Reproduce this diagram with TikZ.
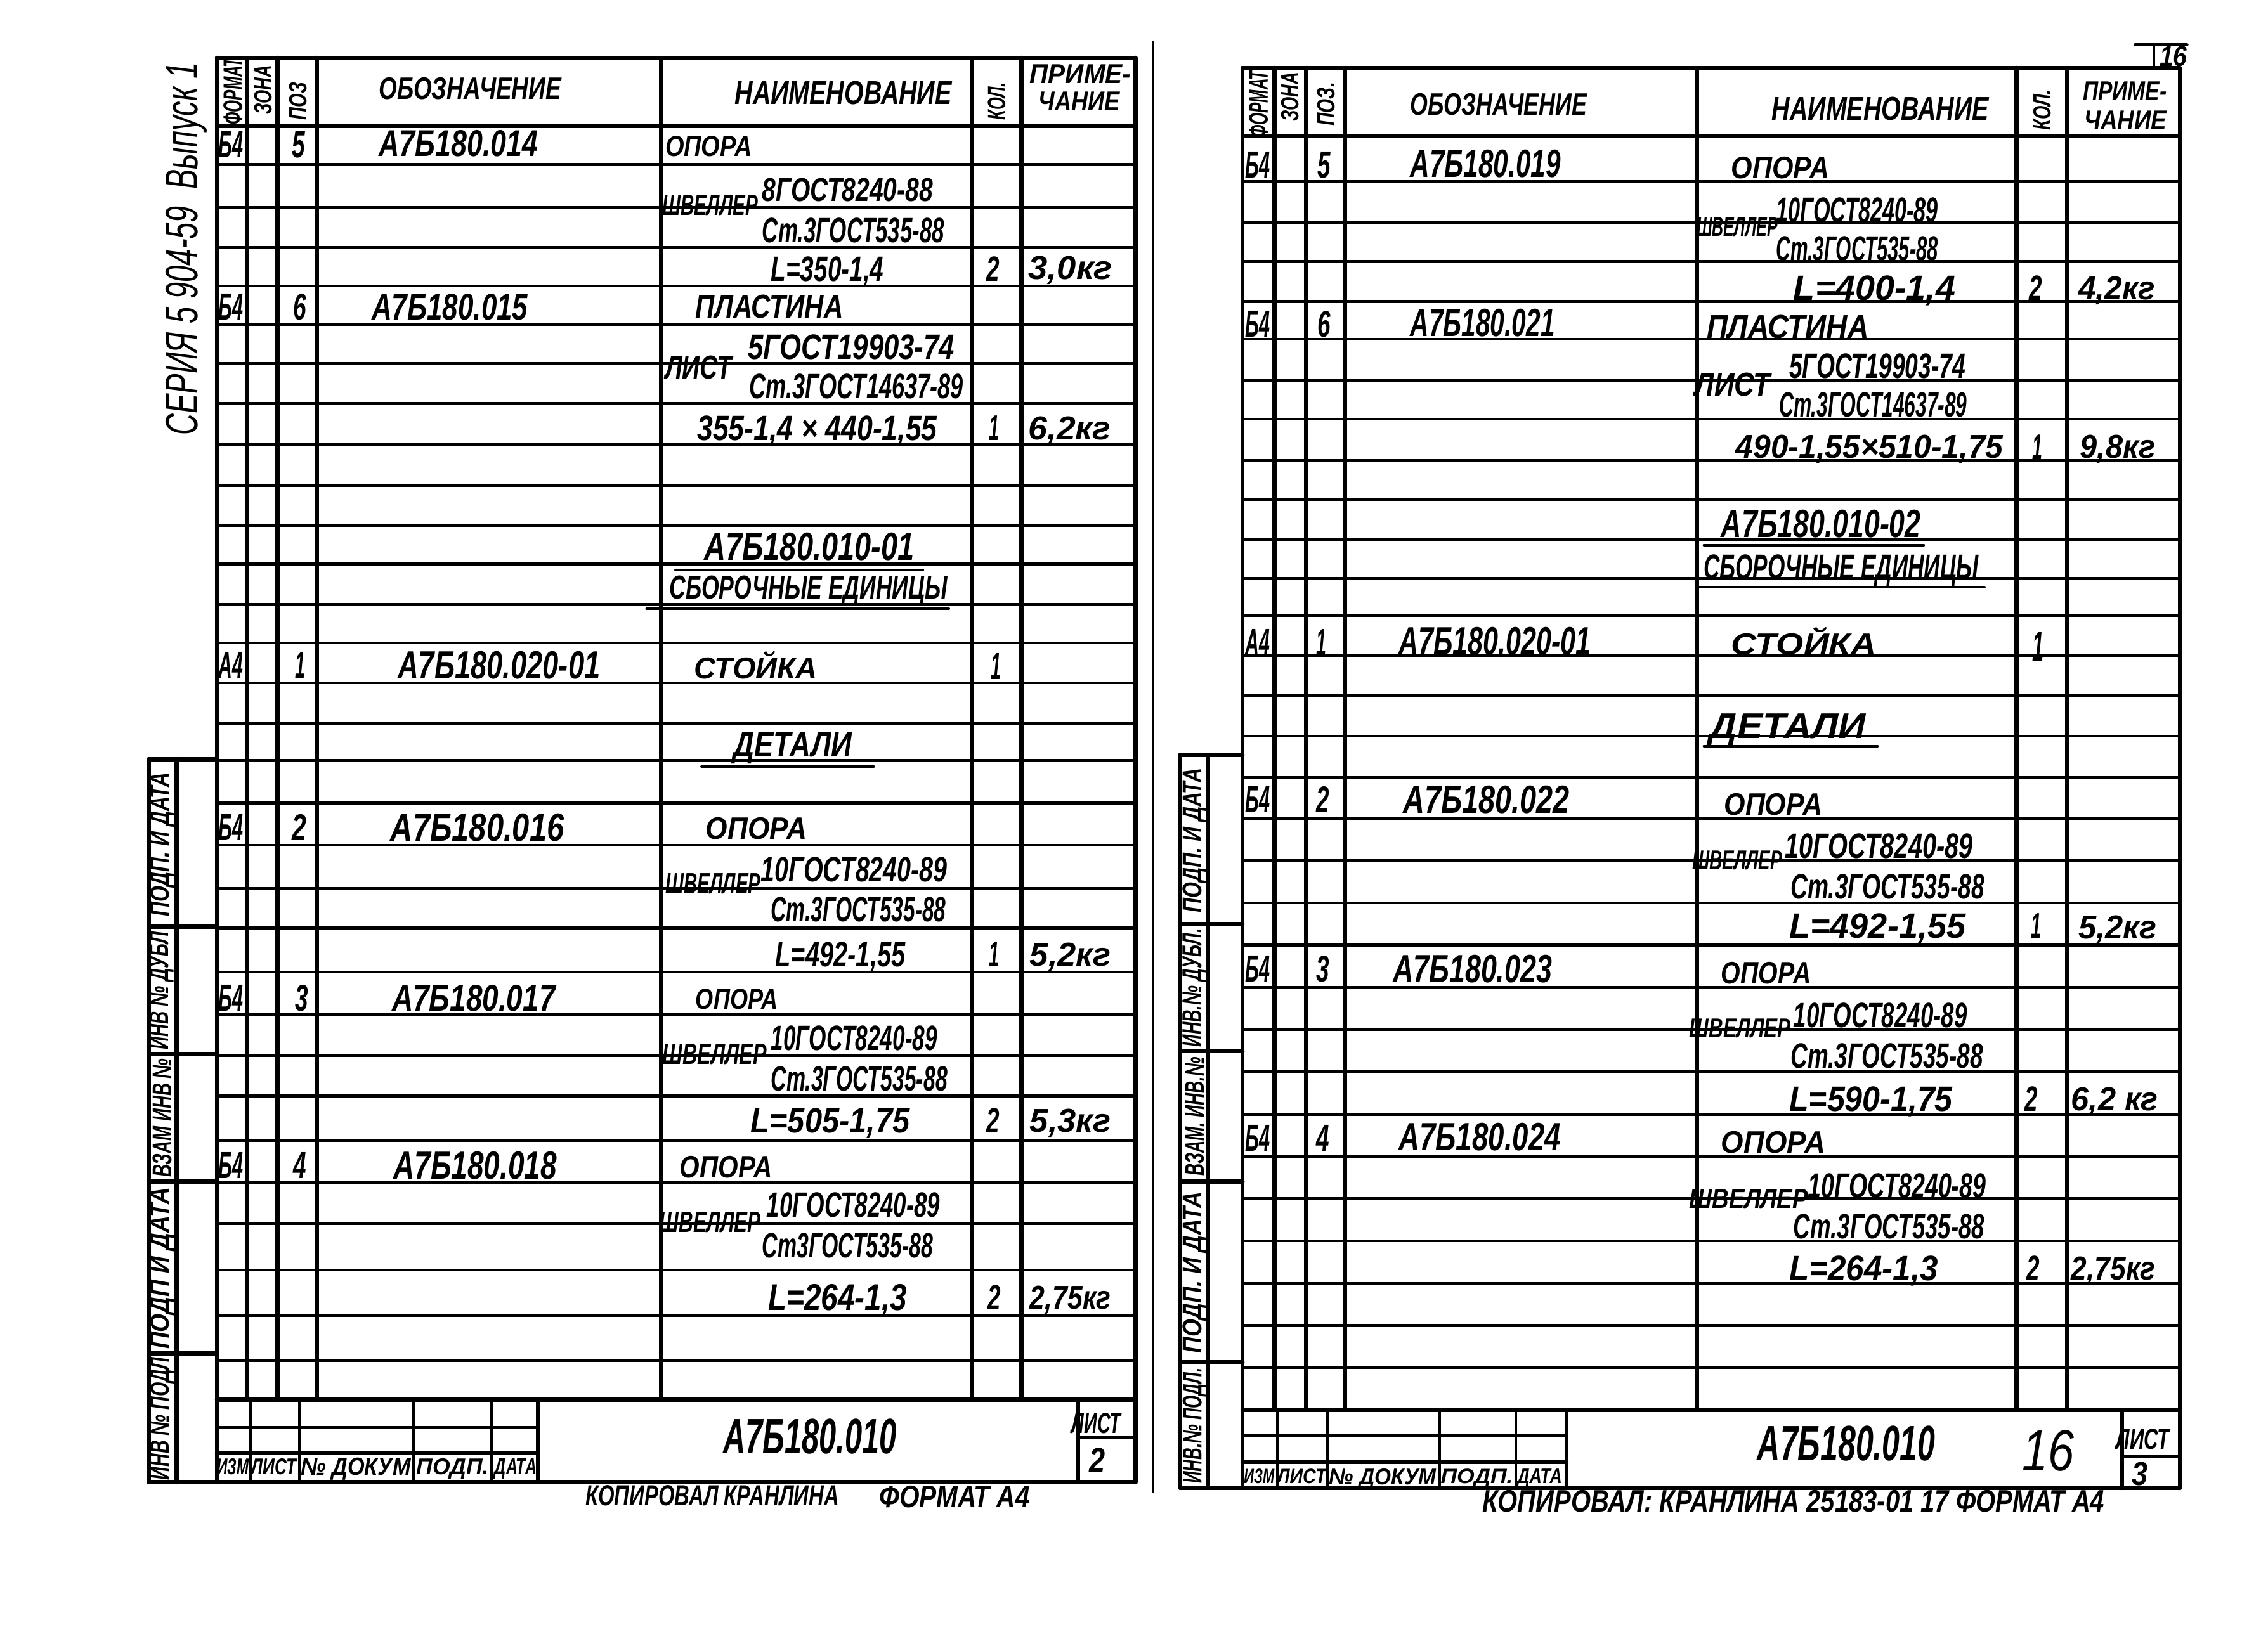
\documentclass[tikz,border=0pt]{standalone}
\usepackage{fontspec}
\usepackage{graphicx}
\newfontfamily\gostf{Liberation Sans}
\newlength\upx \setlength\upx{0.2mm}
\newcounter{tn}
\tikzset{
  lbl/.style={inner sep=0pt, outer sep=0pt, anchor=base west, font=\gostf\bfseries\itshape},
  frm/.style={line width=0.6mm, line cap=round},
  rw/.style={line width=0.4mm, line cap=round},
  ul/.style={line width=0.35mm, line cap=round}
}
\newcommand\mytx[6][]{\stepcounter{tn}\node[lbl,#1] (t\arabic{tn}) at (#2,{#3+0.5*#5}) {\resizebox{#4\upx}{#5\upx}{#6}};}
\newcommand\myrx[6][]{\stepcounter{tn}\node[lbl,rotate=90,anchor=center,#1] (t\arabic{tn}) at (#2,#3) {\resizebox{#4\upx}{#5\upx}{#6}};}
\begin{document}
\begin{tikzpicture}[x=0.2mm,y=-0.2mm]
\useasboundingbox (0,0) rectangle (1568,1125);
\fill[white] (0,0) rectangle (1568,1125);

% ================= LEFT SHEET =================
\draw[frm] (150,40) -- (785,40);
\draw[frm] (150,87) -- (785,87);
\foreach \yy in {113.8,143.3,171,197.8,224.5,251.4,279.1,307.5,335.6,363.3,390.1,417.8,444.6,472.3,500,525.9,555.4,584.5,614.5,641.8,672.2,701.5,729.9,758,788.5,817.8,846.1,878.2,909.8,941}
  \draw[rw] (150,\yy) -- (785,\yy);
\draw[frm] (150,40) -- (150,1025);
\foreach \xx in {171,192,219,457,672,706}
  \draw[frm] (\xx,40) -- (\xx,968);
\draw[frm] (785,40) -- (785,1025);
% title block
\draw[frm] (150,968) -- (785,968);
\draw[frm] (103,1025) -- (785,1025);
\foreach \xx in {173,207,286,340}
  \draw[rw] (\xx,968) -- (\xx,1025);
\draw[frm] (372,968) -- (372,1025);
\draw[frm] (745,968) -- (745,1025);
\draw[rw] (150,987) -- (372,987);
\draw[frm] (150,1005) -- (372,1005);
\draw[rw] (745,994) -- (785,994);
% stamp
\draw[frm] (103,525) -- (103,1025);
\draw[frm] (122,525) -- (122,1025);
\draw[frm] (103,525) -- (150,525);
\foreach \yy in {641,729,817,936}
  \draw[frm] (103,\yy) -- (150,\yy);
% fold line
\draw[line width=0.3mm] (797,28) -- (797,1032);
% underlines
\draw[ul] (467,394) -- (638,394);
\draw[ul] (447,421) -- (656,421);
\draw[ul] (485,530) -- (604,530);

% header texts
\mytx{262}{61}{126}{15}{ОБОЗНАЧЕНИЕ}
\mytx{508}{64}{150}{16}{НАИМЕНОВАНИЕ}
\mytx{712}{51}{70}{13}{ПРИМЕ-}
\mytx{718}{70}{56}{13}{ЧАНИЕ}
\myrx{689}{70}{26}{12}{КОЛ.}
\myrx{161}{63}{46}{13}{ФОРМАТ}
\myrx{182}{62}{34}{12}{ЗОНА}
\myrx{206}{70}{26}{12}{ПОЗ}
% body
\mytx{151}{100}{17}{18}{Б4}
\mytx{202}{100}{9}{18}{5}
\mytx{262}{99}{110}{18}{А7Б180.014}
\mytx{460}{101}{60}{14}{ОПОРА}
\mytx{458}{142}{66}{14}{ШВЕЛЛЕР}
\mytx{527}{131}{118}{16}{8ГОСТ8240-88}
\mytx{527}{159}{126}{17}{Ст.3ГОСТ535-88}
\mytx{533}{186}{78}{17}{L=350-1,4}
\mytx{682}{186}{9}{17}{2}
\mytx{711}{185}{58}{16}{3,0кг}
\mytx{151}{212}{17}{18}{Б4}
\mytx{203}{212}{9}{18}{6}
\mytx{257}{212}{108}{18}{А7Б180.015}
\mytx{481}{212}{102}{16}{ПЛАСТИНА}
\mytx{460}{254}{46}{16}{ЛИСТ}
\mytx{517}{240}{143}{17}{5ГОСТ19903-74}
\mytx{518}{267}{148}{17}{Ст.3ГОСТ14637-89}
\mytx{482}{296}{166}{17}{355-1,4 × 440-1,55}
\mytx{684}{296}{7}{17}{1}
\mytx{711}{296}{57}{16}{6,2кг}
\mytx{487}{378}{145}{19}{А7Б180.010-01}
\mytx{463}{406}{192}{16}{СБОРОЧНЫЕ ЕДИНИЦЫ}
\mytx{151}{460}{17}{18}{А4}
\mytx{204}{460}{7}{18}{1}
\mytx{275}{460}{140}{19}{А7Б180.020-01}
\mytx{480}{460}{85}{19}{СТОЙКА}
\mytx{685}{461}{7}{18}{1}
\mytx{507}{515}{82}{17}{ДЕТАЛИ}
\mytx{151}{572}{17}{18}{Б4}
\mytx{202}{572}{10}{18}{2}
\mytx{270}{572}{120}{19}{А7Б180.016}
\mytx{488}{573}{70}{15}{ОПОРА}
\mytx{460}{611}{66}{14}{ШВЕЛЛЕР}
\mytx{526}{601}{129}{17}{10ГОСТ8240-89}
\mytx{533}{629}{121}{17}{Ст.3ГОСТ535-88}
\mytx{536}{660}{90}{17}{L=492-1,55}
\mytx{684}{660}{7}{17}{1}
\mytx{712}{660}{56}{16}{5,2кг}
\mytx{151}{690}{17}{18}{Б4}
\mytx{204}{690}{9}{18}{3}
\mytx{271}{690}{113}{18}{А7Б180.017}
\mytx{481}{691}{57}{14}{ОПОРА}
\mytx{458}{729}{72}{14}{ШВЕЛЛЕР}
\mytx{533}{718}{115}{17}{10ГОСТ8240-89}
\mytx{533}{746}{122}{17}{Ст.3ГОСТ535-88}
\mytx{519}{775}{110}{17}{L=505-1,75}
\mytx{682}{775}{9}{17}{2}
\mytx{712}{775}{56}{16}{5,3кг}
\mytx{151}{806}{17}{18}{Б4}
\mytx{203}{806}{9}{18}{4}
\mytx{272}{806}{113}{19}{А7Б180.018}
\mytx{470}{807}{64}{15}{ОПОРА}
\mytx{456}{845}{70}{14}{ШВЕЛЛЕР}
\mytx{530}{833}{120}{17}{10ГОСТ8240-89}
\mytx{527}{861}{118}{17}{Ст3ГОСТ535-88}
\mytx{531}{897}{96}{18}{L=264-1,3}
\mytx{683}{897}{9}{17}{2}
\mytx{712}{897}{56}{16}{2,75кг}
% title
\mytx{500}{993}{120}{24}{А7Б180.010}
\mytx{741}{984}{34}{14}{ЛИСТ}
\mytx{753}{1010}{11}{17}{2}
\mytx{150}{1014}{22}{11}{ИЗМ}
\mytx{174}{1014}{31}{11}{ЛИСТ}
\mytx{208}{1014}{76}{12}{№ ДОКУМ}
\mytx{288}{1014}{50}{11}{ПОДП.}
\mytx{342}{1014}{29}{11}{ДАТА}
\mytx{405}{1034}{175}{14}{КОПИРОВАЛ КРАНЛИНА}
\mytx{608}{1035}{104}{15}{ФОРМАТ А4}
% stamp
\myrx{112}{584}{100}{13}{ПОДП. И ДАТА}
\myrx{112}{685}{82}{13}{ИНВ № ДУБЛ}
\myrx{112}{773}{82}{13}{ВЗАМ ИНВ №}
\myrx{112}{877}{112}{13}{ПОДП И ДАТА}
\myrx{112}{981}{85}{13}{ИНВ № ПОДЛ}
% series
\myrx[font=\gostf\itshape]{129}{172}{258}{22}{СЕРИЯ 5 904-59 \ Выпуск 1}

% ================= RIGHT SHEET =================
\draw[frm] (859,47) -- (1507,47);
\draw[frm] (859,94) -- (1507,94);
\foreach \yy in {125.4,154,180.8,208.5,234.5,263,289.8,318.6,345.4,373,400,425.8,453.4,481.2,509,537.5,566,595.2,624.4,653.6,682.9,712.1,741.3,770.5,799.7,828.9,858.1,887.4,916.6,945.8}
  \draw[rw] (859,\yy) -- (1507,\yy);
\draw[frm] (859,47) -- (859,1029);
\foreach \xx in {881,903,930,1173,1394,1429}
  \draw[frm] (\xx,47) -- (\xx,975);
\draw[frm] (1507,47) -- (1507,1029);
% title block
\draw[frm] (859,975) -- (1507,975);
\draw[frm] (816,1029) -- (1507,1029);
\foreach \xx in {883,918,995,1048}
  \draw[rw] (\xx,975) -- (\xx,1029);
\draw[frm] (1083,975) -- (1083,1029);
\draw[frm] (1467,975) -- (1467,1029);
\draw[rw] (859,993) -- (1083,993);
\draw[frm] (859,1011) -- (1083,1011);
\draw[rw] (1467,1007) -- (1507,1007);
% stamp
\draw[frm] (816,522) -- (816,1029);
\draw[frm] (835,522) -- (835,1029);
\draw[frm] (816,522) -- (859,522);
\foreach \yy in {639,727,817,942}
  \draw[frm] (816,\yy) -- (859,\yy);
% page mark
\draw[rw] (1476,31) -- (1512,31);
\draw[rw] (1489,31) -- (1489,47);
% underlines
\draw[ul] (1178,377) -- (1330,377);
\draw[ul] (1173,406) -- (1372,406);
\draw[ul] (1178,516) -- (1298,516);

% header texts
\mytx{975}{72}{122}{15}{ОБОЗНАЧЕНИЕ}
\mytx{1225}{75}{150}{16}{НАИМЕНОВАНИЕ}
\mytx{1440}{63}{58}{13}{ПРИМЕ-}
\mytx{1441}{83}{57}{13}{ЧАНИЕ}
\myrx{1412}{76}{28}{12}{КОЛ.}
\myrx{870}{72}{46}{13}{ФОРМАТ}
\myrx{892}{67}{34}{12}{ЗОНА}
\myrx{917}{72}{30}{12}{ПОЗ.}
% body
\mytx{861}{114}{17}{18}{Б4}
\mytx{911}{114}{9}{18}{5}
\mytx{975}{113}{104}{19}{А7Б180.019}
\mytx{1197}{116}{68}{15}{ОПОРА}
\mytx{1173}{157}{56}{13}{ШВЕЛЛЕР}
\mytx{1228}{145}{112}{17}{10ГОСТ8240-89}
\mytx{1228}{172}{112}{17}{Ст.3ГОСТ535-88}
\mytx{1240}{199}{112}{17}{L=400-1,4}
\mytx{1403}{199}{9}{17}{2}
\mytx{1437}{199}{53}{16}{4,2кг}
\mytx{861}{224}{17}{18}{Б4}
\mytx{911}{224}{9}{18}{6}
\mytx{975}{223}{100}{19}{А7Б180.021}
\mytx{1180}{226}{112}{16}{ПЛАСТИНА}
\mytx{1172}{266}{52}{16}{ЛИСТ}
\mytx{1237}{253}{122}{17}{5ГОСТ19903-74}
\mytx{1230}{280}{130}{17}{Ст.3ГОСТ14637-89}
\mytx{1200}{309}{185}{16}{490-1,55×510-1,75}
\mytx{1405}{309}{7}{17}{1}
\mytx{1438}{309}{52}{16}{9,8кг}
\mytx{1190}{362}{138}{19}{А7Б180.010-02}
\mytx{1178}{392}{190}{17}{СБОРОЧНЫЕ ЕДИНИЦЫ}
\mytx{861}{444}{17}{18}{А4}
\mytx{910}{444}{7}{18}{1}
\mytx{967}{443}{133}{19}{А7Б180.020-01}
\mytx{1197}{443}{100}{19}{СТОЙКА}
\mytx{1405}{447}{8}{20}{1}
\mytx{1182}{502}{108}{17}{ДЕТАЛИ}
\mytx{861}{553}{17}{18}{Б4}
\mytx{910}{553}{9}{18}{2}
\mytx{970}{553}{115}{19}{А7Б180.022}
\mytx{1192}{556}{68}{15}{ОПОРА}
\mytx{1170}{595}{62}{13}{ШВЕЛЛЕР}
\mytx{1234}{585}{130}{17}{10ГОСТ8240-89}
\mytx{1238}{613}{134}{17}{Ст.3ГОСТ535-88}
\mytx{1237}{640}{122}{17}{L=492-1,55}
\mytx{1404}{640}{7}{17}{1}
\mytx{1437}{641}{54}{16}{5,2кг}
\mytx{861}{670}{17}{18}{Б4}
\mytx{910}{670}{9}{18}{3}
\mytx{963}{670}{110}{19}{А7Б180.023}
\mytx{1190}{673}{62}{15}{ОПОРА}
\mytx{1168}{711}{70}{13}{ШВЕЛЛЕР}
\mytx{1240}{702}{120}{17}{10ГОСТ8240-89}
\mytx{1238}{730}{133}{17}{Ст.3ГОСТ535-88}
\mytx{1237}{760}{113}{17}{L=590-1,75}
\mytx{1400}{760}{9}{17}{2}
\mytx{1432}{760}{60}{16}{6,2 кг}
\mytx{861}{787}{17}{18}{Б4}
\mytx{910}{787}{9}{18}{4}
\mytx{967}{786}{112}{19}{А7Б180.024}
\mytx{1190}{790}{72}{15}{ОПОРА}
\mytx{1168}{829}{82}{13}{ШВЕЛЛЕР}
\mytx{1250}{820}{123}{17}{10ГОСТ8240-89}
\mytx{1240}{848}{132}{17}{Ст.3ГОСТ535-88}
\mytx{1237}{877}{103}{17}{L=264-1,3}
\mytx{1401}{877}{9}{17}{2}
\mytx{1432}{877}{58}{16}{2,75кг}
% title
\mytx{1215}{998}{123}{24}{А7Б180.010}
\mytx[font=\gostf\itshape]{1398}{1003}{36}{28}{16}
\mytx{1463}{995}{37}{14}{ЛИСТ}
\mytx{1474}{1019}{11}{16}{3}
\mytx{860}{1021}{21}{10}{ИЗМ}
\mytx{883}{1021}{34}{10}{ЛИСТ}
\mytx{919}{1021}{74}{11}{№ ДОКУМ}
\mytx{996}{1021}{50}{10}{ПОДП.}
\mytx{1049}{1021}{31}{10}{ДАТА}
\mytx{1025}{1038}{430}{15}{КОПИРОВАЛ: КРАНЛИНА 25183-01 17 ФОРМАТ А4}
\mytx{1493}{39}{19}{14}{16}
% stamp
\myrx{826}{581}{100}{13}{ПОДП. И ДАТА}
\myrx{826}{683}{82}{13}{ИНВ.№ ДУБЛ.}
\myrx{826}{772}{82}{13}{ВЗАМ. ИНВ.№}
\myrx{826}{880}{112}{13}{ПОДП. И ДАТА}
\myrx{826}{986}{80}{13}{ИНВ.№ ПОДЛ.}
\end{tikzpicture}
\end{document}
